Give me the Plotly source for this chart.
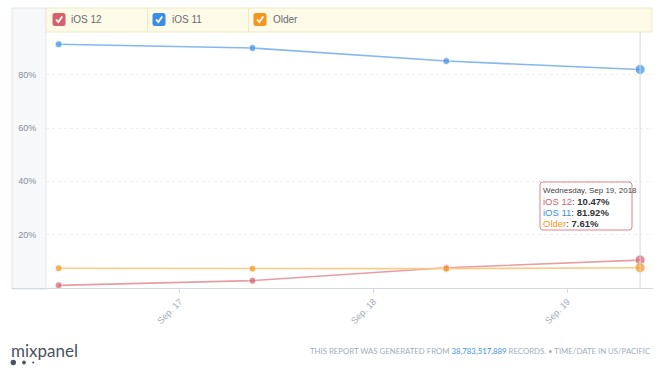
import plotly.graph_objects as go

# ---- data ----
dates = ["2018-09-16", "2018-09-17", "2018-09-18", "2018-09-19"]
ios12 = [1.0, 2.75, 7.6, 10.47]
ios11 = [91.4, 90.0, 85.1, 81.92]
older = [7.4, 7.25, 7.25, 7.61]
series_names = ["iOS 12", "iOS 11", "Older"]
tick_labels = ["Sep. 17", "Sep. 18", "Sep. 19"]
tick_dates = ["2018-09-16 15:00", "2018-09-17 15:00", "2018-09-18 15:00"]
y_ticks = [20, 40, 60, 80]
y_tick_labels = ["20%", "40%", "60%", "80%"]
tooltip_date = "Wednesday, Sep 19, 2018"
record_count = "38,783,517,889"

# ---- layout geometry (pixels) ----
W, H = 660, 376
L, R, T, B = 46, 7, 32, 88
PW, PH = W - L - R, H - T - B


def xp(px):
    return (px - L) / PW


def yp(py):
    return (H - B - py) / PH


RED, BLUE, ORANGE = "#d6616c", "#3b8ee8", "#f4961e"
RED_L, BLUE_L, ORANGE_L = "#e89ca3", "#85b8f0", "#f9cb86"
series = [
    (series_names[0], ios12, RED_L, RED),
    (series_names[1], ios11, BLUE_L, BLUE),
    (series_names[2], older, ORANGE_L, ORANGE),
]

fig = go.Figure()
for name, vals, lc, mc in series:
    fig.add_trace(go.Scatter(
        x=dates, y=vals, name=name, mode="lines+markers",
        line=dict(color=lc, width=1.6),
        marker=dict(color=mc, size=[7, 7, 7, 10], line=dict(color="white", width=0.8)),
        showlegend=False, hoverinfo="skip",
    ))

shapes = []
# left panel
shapes.append(dict(type="rect", xref="paper", yref="paper", x0=xp(12), x1=xp(46),
                   y0=yp(289), y1=yp(8), fillcolor="#f7f8fa",
                   line=dict(color="#e4e7ec", width=1), layer="below"))
# legend bar
shapes.append(dict(type="rect", xref="paper", yref="paper", x0=xp(46), x1=xp(652),
                   y0=yp(32), y1=yp(8), fillcolor="#fdfbe7",
                   line=dict(color="#efe9c6", width=1)))
for dx in (147.5, 248.5):
    shapes.append(dict(type="line", xref="paper", yref="paper", x0=xp(dx), x1=xp(dx),
                       y0=yp(32), y1=yp(8), line=dict(color="#efe9c6", width=1)))
# bottom axis line
shapes.append(dict(type="line", xref="paper", yref="paper", x0=xp(12), x1=xp(653),
                   y0=yp(288.5), y1=yp(288.5), line=dict(color="#d5dae1", width=1)))
# hover line
shapes.append(dict(type="line", xref="x", yref="paper", x0=dates[-1], x1=dates[-1],
                   y0=0, y1=1, line=dict(color="#d3d7dd", width=1)))


def rounded(x0, y0, x1, y1, r):
    a, b, c, d = xp(x0), xp(x1), yp(y0), yp(y1)
    rx, ry = r / PW, r / PH
    return (f"M {a+rx} {c} L {b-rx} {c} Q {b} {c} {b} {c-ry} L {b} {d+ry} Q {b} {d} {b-rx} {d} "
            f"L {a+rx} {d} Q {a} {d} {a} {d+ry} L {a} {c-ry} Q {a} {c} {a+rx} {c} Z")


# checkboxes
for cx0, col in [(52.5, RED), (152.5, BLUE), (253.5, ORANGE)]:
    shapes.append(dict(type="path", xref="paper", yref="paper",
                       path=rounded(cx0, 13, cx0 + 13, 26, 2.5), fillcolor=col,
                       line=dict(color=col, width=0)))
    p = f"M {xp(cx0+3.5)} {yp(19.5)} L {xp(cx0+5.8)} {yp(22)} L {xp(cx0+9.8)} {yp(16.5)}"
    shapes.append(dict(type="path", xref="paper", yref="paper", path=p,
                       line=dict(color="white", width=1.8)))

# tooltip box
shapes.append(dict(type="path", xref="paper", yref="paper",
                   path=rounded(540, 182, 632, 230, 3), fillcolor="white",
                   line=dict(color="#e0848d", width=1)))

# logo dots
for cx, r in [(13.3, 2.7), (24, 1.9), (33.3, 1.1)]:
    shapes.append(dict(type="circle", xref="paper", yref="paper",
                       x0=xp(cx - r), x1=xp(cx + r), y0=yp(362.5 + r), y1=yp(362.5 - r),
                       fillcolor="#4b5263", line=dict(width=0)))

annotations = []
for lx, name in [(69, series_names[0]), (170, series_names[1]), (271, series_names[2])]:
    annotations.append(dict(xref="paper", yref="paper", x=xp(lx), y=yp(19.5),
                            xanchor="left", yanchor="middle", text=name, showarrow=False,
                            font=dict(family="Liberation Sans", size=10, color="#666b73")))

# tooltip lines
annotations.append(dict(xref="paper", yref="paper", x=xp(541), y=yp(190),
                        xanchor="left", yanchor="middle", text=tooltip_date, showarrow=False,
                        font=dict(family="Liberation Sans", size=8, color="#444")))
for i, (name, vals, lc, mc) in enumerate(series):
    annotations.append(dict(
        xref="paper", yref="paper", x=xp(541), y=yp(201.3 + 11 * i),
        xanchor="left", yanchor="middle", showarrow=False,
        text=f"<span style='color:{mc}'>{name}</span>: <b>{vals[-1]:.2f}%</b>",
        font=dict(family="Liberation Sans", size=9.5, color="#333")))

annotations.append(dict(xref="paper", yref="paper", x=xp(9), y=yp(350),
                        xanchor="left", yanchor="middle", text="mixpanel", showarrow=False,
                        font=dict(family="Lato", size=17, color="#4b5263")))
annotations.append(dict(
    xref="paper", yref="paper", x=xp(653), y=yp(351), xanchor="right", yanchor="middle",
    text=(f"THIS REPORT WAS GENERATED FROM <span style='color:#3b8fe6'>{record_count}</span>"
          f" RECORDS. • TIME/DATE IN US/PACIFIC"),
    showarrow=False, font=dict(family="Lato", size=7.8, color="#a2acb9")))

fig.update_layout(
    width=W, height=H, autosize=False,
    margin=dict(l=L, r=R, t=T, b=B, pad=0),
    paper_bgcolor="white", plot_bgcolor="rgba(0,0,0,0)",
    shapes=shapes, annotations=annotations,
    xaxis=dict(type="date", range=["2018-09-15 22:26", "2018-09-19 01:36"],
               tickvals=tick_dates, ticktext=tick_labels, tickangle=-45,
               ticks="outside", ticklen=4, tickcolor="#d5dae1",
               showgrid=False, zeroline=False, showline=False,
               tickfont=dict(family="Liberation Sans", size=9, color="#a4acb7")),
    yaxis=dict(range=[0, 96], tickvals=y_ticks, ticktext=y_tick_labels,
               showgrid=True, gridcolor="#eceef1", griddash="dot", zeroline=False,
               showline=False, ticks="outside", ticklen=7, tickcolor="rgba(0,0,0,0)",
               tickfont=dict(family="Liberation Sans", size=9, color="#858d99")),
)

fig.write_html("out.html", config={"displayModeBar": False},
               post_script="document.body.style.margin='0';")
